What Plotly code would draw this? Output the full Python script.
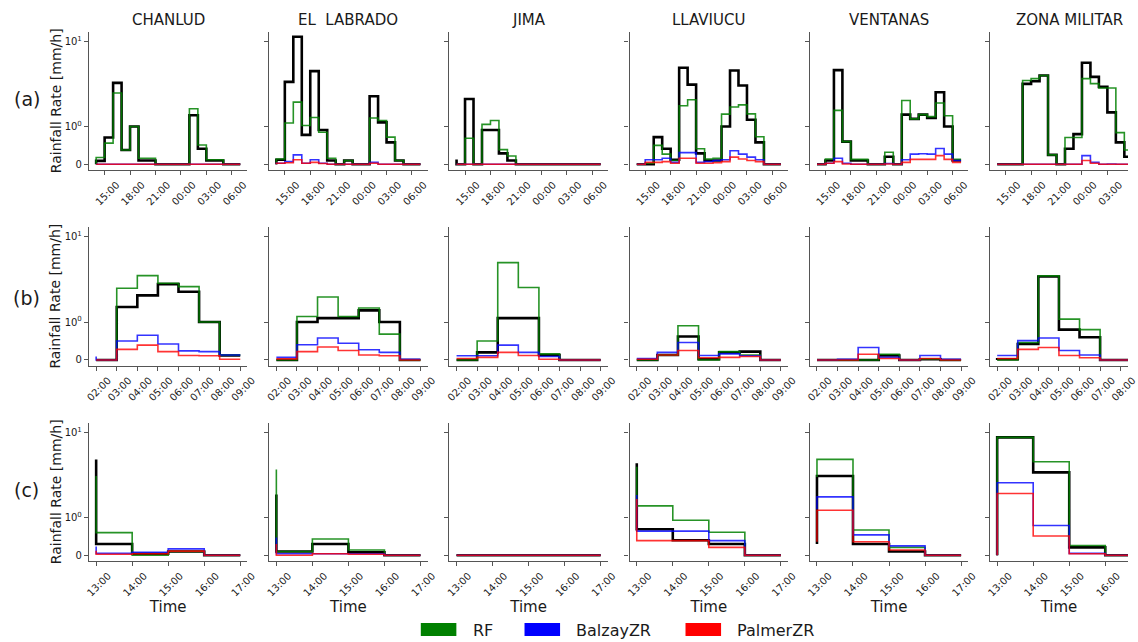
import math
import plotly.graph_objects as go

W, H = 1138, 642

stations = ["CHANLUD", "EL\u00a0\u00a0LABRADO", "JIMA", "LLAVIUCU", "VENTANAS", "ZONA MILITAR"]
row_labels = ["(a)", "(b)", "(c)"]
series_names = ["Gauge", "RF", "BalzayZR", "PalmerZR"]
legend_names = ["RF", "BalzayZR", "PalmerZR"]

# ---- time axes (hours; 24+ = next day) ----
a_hours = list(range(14, 32))
a_tickvals = [15, 18, 21, 24, 27, 30]
a_ticktext = ["15:00", "18:00", "21:00", "00:00", "03:00", "06:00"]
b_hours = list(range(2, 10))
b_tickvals = [2, 3, 4, 5, 6, 7, 8, 9]
b_ticktext = ["02:00", "03:00", "04:00", "05:00", "06:00", "07:00", "08:00", "09:00"]
c_hours = list(range(13, 18))
c_tickvals = [13, 14, 15, 16, 17]
c_ticktext = ["13:00", "14:00", "15:00", "16:00", "17:00"]

# ---- row (a) values [mm/h], one list per station ----
a_gauge = [
    [0, 0.09, 0.71, 3.27, 0.38, 1.0, 0.1, 0.1, 0, 0, 0, 0, 1.36, 0.41, 0.1, 0.1, 0, 0],
    [0, 0.12, 3.36, 11.4, 0.78, 4.49, 0.91, 0.1, 0, 0.1, 0, 0, 2.27, 1.12, 0.58, 0.1, 0, 0],
    [0.13, 0, 2.11, 0, 0.91, 0.91, 0.29, 0.1, 0, 0, 0, 0, 0, 0, 0, 0, 0, 0],
    [0, 0, 0, 0.72, 0.41, 0.12, 4.92, 3.12, 0.29, 0.1, 0.1, 1.0, 4.57, 3.04, 1.2, 0.58, 0, 0],
    [0, 0, 0.1, 4.62, 0.6, 0.1, 0.1, 0, 0, 0.2, 0, 1.38, 1.23, 1.38, 1.26, 2.53, 1.0, 0.1],
    [0, 0, 0, 0, 3.18, 3.42, 3.99, 0.25, 0, 0.41, 0.8, 5.64, 3.84, 2.93, 1.47, 0.58, 0.2, 0.1],
]
a_rf = [
    [0, 0.18, 0.56, 2.48, 0.38, 1.0, 0.16, 0.16, 0, 0, 0, 0, 1.62, 0.51, 0.12, 0.12, 0, 0],
    [0, 0.14, 1.1, 1.94, 1.03, 1.28, 0.85, 0.16, 0, 0.1, 0, 0, 1.26, 1.18, 0.72, 0.1, 0, 0],
    [0, 0, 0.69, 0, 1.06, 1.18, 0.39, 0.22, 0, 0, 0, 0, 0, 0, 0, 0, 0, 0],
    [0, 0, 0.03, 0.5, 0.27, 0.1, 1.76, 2.07, 0.41, 0.14, 0.16, 1.4, 1.7, 1.8, 1.41, 0.73, 0, 0],
    [0, 0, 0.14, 1.55, 0.6, 0.13, 0.13, 0, 0, 0.32, 0, 2.03, 1.23, 1.38, 1.31, 1.89, 1.34, 0.13],
    [0, 0, 0, 0, 3.48, 3.67, 3.99, 0.25, 0, 0.71, 0.71, 3.67, 3.2, 2.84, 2.84, 0.84, 0.38, 0.1],
]
a_balzay = [
    [0] * 18,
    [0, 0.03, 0.07, 0.25, 0.03, 0.12, 0.03, 0, 0, 0, 0, 0, 0.05, 0, 0, 0, 0, 0],
    [0] * 18,
    [0, 0, 0.12, 0.12, 0.16, 0.05, 0.31, 0.31, 0.05, 0.07, 0.1, 0.12, 0.36, 0.27, 0.19, 0.12, 0, 0],
    [0, 0, 0.03, 0.16, 0.03, 0, 0, 0, 0, 0.02, 0, 0.12, 0.27, 0.28, 0.27, 0.42, 0.27, 0.1],
    [0, 0, 0, 0, 0, 0, 0, 0, 0, 0, 0, 0.23, 0.05, 0, 0.01, 0, 0, 0],
]
a_palmer = [
    [0] * 18,
    [0, 0.03, 0.04, 0.12, 0.03, 0.05, 0.02, 0, 0, 0, 0, 0, 0.03, 0, 0, 0, 0, 0],
    [0] * 18,
    [0, 0, 0.05, 0.05, 0.07, 0.03, 0.16, 0.16, 0.03, 0.03, 0.04, 0.07, 0.19, 0.14, 0.1, 0.07, 0, 0],
    [0, 0, 0.03, 0.07, 0.01, 0, 0, 0, 0, 0.01, 0, 0.05, 0.13, 0.13, 0.13, 0.23, 0.13, 0.05],
    [0, 0, 0, 0, 0, 0, 0, 0, 0, 0, 0, 0.1, 0.03, 0, 0, 0, 0, 0],
]

# ---- row (b) values ----
b_gauge = [
    [0, 0, 1.5, 2.05, 2.78, 2.26, 1.0, 0.12],
    [0, 0, 1.0, 1.11, 1.11, 1.37, 1.0, 0],
    [0, 0, 0.2, 1.11, 1.11, 0.13, 0, 0],
    [0, 0, 0.13, 0.62, 0.02, 0.2, 0.22, 0],
    [0, 0, 0, 0, 0.12, 0, 0.02, 0],
    [0, 0.02, 0.42, 3.41, 0.8, 0.6, 0, 0],
]
b_rf = [
    [0, 0, 2.49, 3.5, 2.85, 2.6, 1.0, 0.13],
    [0, 0, 1.16, 1.96, 1.16, 1.46, 0.68, 0],
    [0, 0, 0.5, 4.97, 2.54, 0.16, 0, 0],
    [0, 0, 0.13, 0.9, 0, 0.22, 0.13, 0],
    [0, 0, 0, 0, 0.15, 0, 0.03, 0],
    [0, 0, 0.46, 3.47, 1.08, 0.8, 0, 0],
]
b_balzay = [
    [0.09, 0, 0.5, 0.65, 0.42, 0.24, 0.22, 0.13],
    [0.07, 0.07, 0.4, 0.58, 0.44, 0.27, 0.2, 0.02],
    [0.11, 0.11, 0.11, 0.39, 0.2, 0.09, 0, 0],
    [0.04, 0.04, 0.2, 0.46, 0.12, 0.16, 0.11, 0],
    [0, 0, 0.02, 0.33, 0.07, 0, 0.12, 0.02],
    [0.12, 0.12, 0.51, 0.58, 0.25, 0.13, 0, 0],
]
b_palmer = [
    [0, 0, 0.28, 0.39, 0.22, 0.12, 0.11, 0.02],
    [0.03, 0.03, 0.22, 0.34, 0.25, 0.13, 0.11, 0],
    [0.04, 0.04, 0.07, 0.2, 0.12, 0.02, 0, 0],
    [0.02, 0.02, 0.13, 0.25, 0.06, 0.07, 0.09, 0],
    [0, 0, 0, 0.15, 0.04, 0, 0.04, 0],
    [0.04, 0.04, 0.28, 0.33, 0.12, 0.06, 0, 0],
]

# ---- row (c) values ----
c_gauge = [
    [4.84, 0.3, 0.04, 0.1, 0],
    [1.87, 0.1, 0.3, 0.08, 0],
    [0, 0, 0, 0, 0],
    [4.35, 0.69, 0.4, 0.3, 0],
    [0.3, 3.08, 0.3, 0.1, 0],
    [0, 8.8, 3.4, 0.21, 0],
]
c_rf = [
    [3.08, 0.6, 0, 0.1, 0],
    [3.69, 0.1, 0.43, 0.14, 0],
    [0, 0, 0, 0, 0],
    [3.97, 1.37, 0.93, 0.61, 0],
    [3.0, 4.84, 0.67, 0.21, 0],
    [0, 8.8, 4.54, 0.26, 0],
]
c_balzay = [
    [0.23, 0.05, 0.08, 0.17, 0],
    [0.47, 0.04, 0.04, 0.04, 0],
    [0, 0, 0, 0, 0],
    [1.84, 0.64, 0.64, 0.39, 0],
    [1.25, 1.75, 0.54, 0.25, 0],
    [0, 2.57, 0.79, 0.05, 0],
]
c_palmer = [
    [0.12, 0.03, 0.04, 0.11, 0],
    [0.3, 0, 0.04, 0.03, 0],
    [0, 0, 0, 0, 0],
    [1.65, 0.39, 0.39, 0.21, 0],
    [0.36, 1.22, 0.36, 0.14, 0],
    [0, 1.92, 0.51, 0.04, 0],
]

# ---- styling ----
FONT = "DejaVu Sans"
TXT = "#1a1a1a"
AXC = "#555555"
colors = ["black", "rgba(0,128,0,0.85)", "rgba(0,0,255,0.8)", "rgba(255,0,0,0.8)"]
patch_colors = ["#008000", "#0000ff", "#ff0000"]
widths = [2.6, 1.6, 1.6, 1.6]

# symmetric-log style y scale (linear below 1, log above)
LIN = 0.445


def symlog(v):
    return v * LIN if v <= 1 else LIN + math.log10(v)


rows = [
    (a_hours, a_tickvals, a_ticktext, [a_gauge, a_rf, a_balzay, a_palmer], (13.15, 31.85)),
    (b_hours, b_tickvals, b_ticktext, [b_gauge, b_rf, b_balzay, b_palmer], (1.65, 9.35)),
    (c_hours, c_tickvals, c_ticktext, [c_gauge, c_rf, c_balzay, c_palmer], (12.8, 17.2)),
]

col_left = [86 + i * 182.45 for i in range(6)]
axis_w = 160.5
row_top = [31.7, 226.7, 422.7]
row_bot = [170.0, 365.7, 561.0]
y_range = [-0.067, 1.562]

fig = go.Figure()
layout = {}
annotations = []
shapes = []

for r, (hours, tv, tt, series, (x0, x1)) in enumerate(rows):
    for c in range(6):
        k = r * 6 + c + 1
        xs = "x" if k == 1 else f"x{k}"
        ys = "y" if k == 1 else f"y{k}"
        left = col_left[c]
        right = min(left + axis_w, W)
        frac = (right - left) / axis_w
        xr = [x0, x0 + (x1 - x0) * frac]
        for s in range(4):
            vals = series[s][c]
            fig.add_trace(go.Scatter(
                x=hours, y=[symlog(v) for v in vals], mode="lines",
                line=dict(shape="vh", color=colors[s], width=widths[s]),
                name=series_names[s], showlegend=False,
                xaxis=xs, yaxis=ys, hoverinfo="skip",
            ))
        xax = dict(
            domain=[left / W, right / W], anchor=ys, range=xr,
            tickmode="array", tickvals=tv, ticktext=tt, tickangle=-45,
            ticks="outside", ticklen=4, tickwidth=1, tickcolor=AXC,
            showline=True, linecolor=AXC, linewidth=1.2,
            showgrid=False, zeroline=False,
            tickfont=dict(family=FONT, size=10, color=TXT),
            ticklabelshift=12,
        )
        if r == 2:
            xax["title"] = dict(text="Time", font=dict(family=FONT, size=15, color=TXT), standoff=2)
        layout["xaxis" if k == 1 else f"xaxis{k}"] = xax
        layout["yaxis" if k == 1 else f"yaxis{k}"] = dict(
            domain=[1 - row_bot[r] / H, 1 - row_top[r] / H], anchor=xs, range=y_range,
            tickmode="array", tickvals=[0, symlog(1), symlog(10)],
            ticktext=["0", "10<sup>0</sup>", "10<sup>1</sup>"],
            showticklabels=(c == 0),
            ticks="outside", ticklen=4, tickwidth=1, tickcolor=AXC,
            showline=True, linecolor=AXC, linewidth=1.2,
            showgrid=False, zeroline=False,
            tickfont=dict(family=FONT, size=10, color=TXT),
        )
    # y-axis title and row label
    yc = 1 - (row_top[r] + row_bot[r]) / 2 / H
    annotations.append(dict(text="Rainfall Rate [mm/h]", xref="paper", yref="paper",
                            x=52 / W, y=yc, textangle=-90, showarrow=False,
                            xanchor="center", yanchor="middle",
                            font=dict(family=FONT, size=14, color=TXT)))
    annotations.append(dict(text=row_labels[r], xref="paper", yref="paper",
                            x=23 / W, y=1 - [99, 298, 490][r] / H, showarrow=False,
                            xanchor="center", yanchor="middle",
                            font=dict(family=FONT, size=19, color=TXT)))

# station titles
for c, name in enumerate(stations):
    cx = col_left[c] + axis_w / 2
    annotations.append(dict(text=name, xref="paper", yref="paper", x=cx / W, y=1 - 20 / H,
                            showarrow=False, xanchor="center", yanchor="middle",
                            font=dict(family=FONT, size=15, color=TXT)))

# legend (patch + label)
leg_boxes = [(422, 458), (527, 563), (690, 726)]
leg_text_x = [473, 577, 740]
for i, name in enumerate(legend_names):
    xa, xb = leg_boxes[i]
    shapes.append(dict(type="rect", xref="paper", yref="paper",
                       x0=xa / W, x1=xb / W, y0=1 - 636 / H, y1=1 - 623 / H,
                       fillcolor=patch_colors[i], line=dict(width=0)))
    annotations.append(dict(text=name, xref="paper", yref="paper", x=leg_text_x[i] / W,
                            y=1 - 630 / H, showarrow=False, xanchor="left", yanchor="middle",
                            font=dict(family=FONT, size=16, color=TXT)))

fig.update_layout(
    width=W, height=H, margin=dict(l=0, r=0, t=0, b=0),
    paper_bgcolor="white", plot_bgcolor="white",
    showlegend=False, annotations=annotations, shapes=shapes,
    **layout,
)

fig.write_html("out.html")
